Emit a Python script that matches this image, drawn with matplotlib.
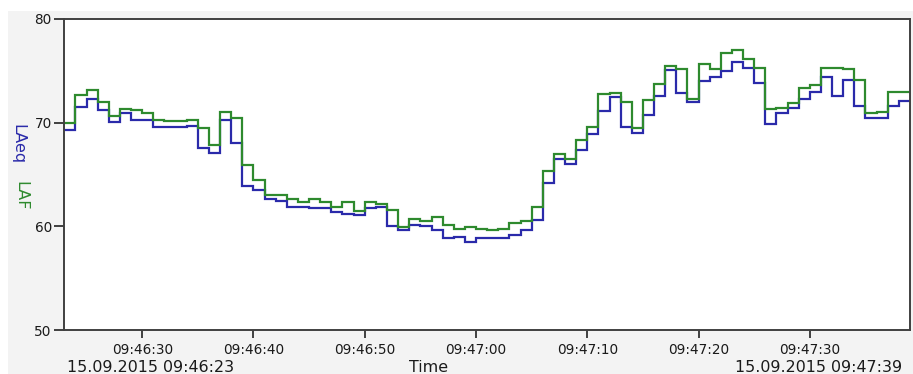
import matplotlib
matplotlib.use("Agg")
import matplotlib.pyplot as plt
import matplotlib.dates as mdates
from matplotlib.patches import Rectangle
import numpy as np
from datetime import datetime, timedelta

start_time = "15.09.2015 09:46:23"
end_time = "15.09.2015 09:47:39"

laf = [70.0, 72.7, 73.15, 72.0, 70.6, 71.3, 71.2, 70.9, 70.3, 70.2,
       70.2, 70.3, 69.5, 67.85, 71.0, 70.45, 65.9, 64.45, 63.05, 63.05,
       62.6, 62.3, 62.6, 62.3, 61.9, 62.3, 61.5, 62.3, 62.15, 61.6,
       59.9, 60.7, 60.5, 60.9, 60.15, 59.75, 59.9, 59.75, 59.6, 59.75,
       60.35, 60.5, 61.85, 65.3, 66.95, 66.45, 68.3, 69.6, 72.75, 72.9,
       71.95, 69.45, 72.15, 73.75, 75.45, 75.15, 72.3, 75.7, 75.15, 76.7,
       77.0, 76.15, 75.3, 71.3, 71.45, 71.9, 73.3, 73.6, 75.3, 75.3,
       75.15, 74.15, 70.9, 71.05, 73.0, 73.0]

laeq = [69.3, 71.5, 72.3, 71.2, 70.1, 70.9, 70.3, 70.3, 69.6, 69.6,
        69.6, 69.7, 67.6, 67.05, 70.3, 68.0, 63.9, 63.5, 62.6, 62.45,
        61.9, 61.9, 61.75, 61.75, 61.35, 61.2, 61.05, 61.75, 61.9, 60.05,
        59.6, 60.15, 60.0, 59.6, 58.85, 59.0, 58.45, 58.9, 58.9, 58.9,
        59.2, 59.6, 60.6, 64.2, 66.45, 66.0, 67.35, 68.9, 71.15, 72.45,
        69.55, 69.0, 70.7, 72.6, 75.1, 72.9, 71.95, 74.0, 74.45, 75.0,
        75.9, 75.3, 73.85, 69.9, 70.9, 71.45, 72.3, 73.0, 74.45, 72.6,
        74.15, 71.6, 70.45, 70.45, 71.6, 72.05]

y_ticks = [50, 60, 70, 80]

W, H = 913, 374
fig = plt.figure(figsize=(W / 100, H / 100), dpi=100, facecolor="white")
fig.patches.append(Rectangle((8 / W, 0), 1 - 8 / W, (H - 11) / H,
                             transform=fig.transFigure, facecolor="#f3f3f3",
                             edgecolor="none", zorder=-10))

ax = fig.add_axes([64.3 / W, (H - 330) / H, (910 - 64.3) / W, (330 - 19) / H])
ax.set_facecolor("white")

t0 = datetime.strptime(start_time, "%d.%m.%Y %H:%M:%S")
t1 = datetime.strptime(end_time, "%d.%m.%Y %H:%M:%S")
edges = mdates.date2num([t0 + timedelta(seconds=i) for i in range(len(laf) + 1)])

ax.stairs(laeq, edges, color="#2a2aaa", linewidth=1.6, baseline=None)
ax.stairs(laf, edges, color="#2e8a2e", linewidth=1.6, baseline=None)

ax.set_xlim(mdates.date2num(t0), mdates.date2num(t1))
ax.set_ylim(50, 80)
ax.set_yticks(y_ticks)
ax.xaxis.set_major_locator(mdates.SecondLocator(bysecond=[0, 10, 20, 30, 40, 50]))
ax.xaxis.set_major_formatter(mdates.DateFormatter("%H:%M:%S"))

for s in ax.spines.values():
    s.set_color("#404040")
    s.set_linewidth(1.4)
ax.tick_params(axis="both", direction="out", color="#404040", width=1.4,
               labelsize=9.8, labelcolor="#1a1a1a")
ax.tick_params(axis="x", length=6, pad=3)
ax.tick_params(axis="y", length=7, pad=2)

fig.text(67 / W, 1 - 372 / H, start_time, ha="left", va="baseline",
         fontsize=11.4, color="#1a1a1a")
fig.text(902 / W, 1 - 372 / H, end_time, ha="right", va="baseline",
         fontsize=11.4, color="#1a1a1a")
fig.text(429 / W, 1 - 372 / H, "Time", ha="center", va="baseline",
         fontsize=11.4, color="#1a1a1a")

fig.text(17.5 / W, 1 - 144 / H, "LAeq", rotation=-90, ha="center", va="center",
         fontsize=11.5, color="#2a2aaa")
fig.text(21 / W, 1 - 196 / H, "LAF", rotation=-90, ha="center", va="center",
         fontsize=11.5, color="#2e8a2e")

fig.savefig("out.png", dpi=100, facecolor=fig.get_facecolor())
